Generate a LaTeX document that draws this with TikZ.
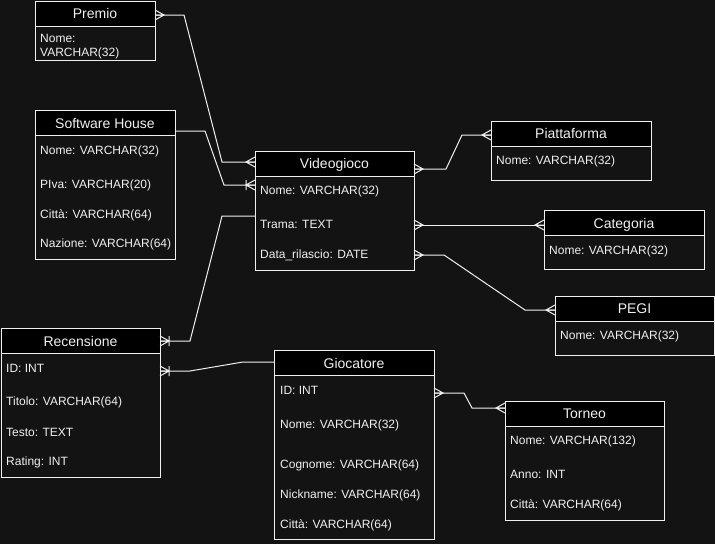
\documentclass[tikz,border=0pt]{standalone}
\usepackage{fontspec}
\setmainfont{Liberation Sans}
\usetikzlibrary{positioning}
\definecolor{bg}{HTML}{131313}
\definecolor{ink}{HTML}{F0F0F0}
\tikzset{
  entity/.style={draw=ink,fill=black,text=ink,line width=1pt,inner sep=0pt,outer sep=0pt,
    minimum height=25pt,text height=10pt,text depth=0pt,font=\fontsize{14}{16}\selectfont},
  fields/.style={draw=ink,fill=bg,line width=1pt,inner sep=0pt,outer sep=0pt},
  field/.style={text=ink,inner sep=0pt,anchor=base west,font=\fontsize{12}{14}\selectfont},
  rel/.style={draw=ink,line width=1pt},
  many/.pic={\draw[rel] (0,-5) -- (-9,0) -- (0,5) (0,0) -- (-9,0);},
  onemany/.pic={\draw[rel] (0,-5) -- (-9,0) -- (0,5) (0,0) -- (-9,0) (-9,-5) -- (-9,5);}
}
\begin{document}
\begin{tikzpicture}[x=1pt,y=-1pt]
  \fill[bg] (0,0) rectangle (715,544);
  \useasboundingbox (0,0) rectangle (715,544);

  % entities
  \node[entity,minimum width=120pt] (premio) at (95,13.5) {Premio};
  \node[fields,minimum width=120pt,minimum height=34pt,below=0pt of premio] (premio-f) {};
  \node[field,anchor=west,align=left] (premio-nome) at (40,47) {Nome:\\VARCHAR(32)};

  \node[entity,minimum width=140pt] (sh) at (105,123) {Software House};
  \node[fields,minimum width=140pt,minimum height=124pt,below=0pt of sh] (sh-f) {};
  \node[field] (sh-nome) at (40,154) {Nome: VARCHAR(32)};
  \node[field] (sh-piva) at (40,188) {PIva: VARCHAR(20)};
  \node[field] (sh-citta) at (40,218) {Città: VARCHAR(64)};
  \node[field] (sh-nazione) at (40,247) {Nazione: VARCHAR(64)};

  \node[entity,minimum width=159pt] (vg) at (334.5,163.5) {Videogioco};
  \node[fields,minimum width=159pt,minimum height=94pt,below=0pt of vg] (vg-f) {};
  \node[field] (vg-nome) at (260,194) {Nome: VARCHAR(32)};
  \node[field] (vg-trama) at (260,228) {Trama: TEXT};
  \node[field] (vg-data) at (260,258) {Data\_rilascio: DATE};

  \node[entity,minimum width=160pt] (piatt) at (571,133.5) {Piattaforma};
  \node[fields,minimum width=160pt,minimum height=34pt,below=0pt of piatt] (piatt-f) {};
  \node[field] (piatt-nome) at (496,164) {Nome: VARCHAR(32)};

  \node[entity,minimum width=160pt] (cat) at (624,223) {Categoria};
  \node[fields,minimum width=160pt,minimum height=34pt,below=0pt of cat] (cat-f) {};
  \node[field] (cat-nome) at (549,254) {Nome: VARCHAR(32)};

  \node[entity,minimum width=159pt] (pegi) at (634.5,308.5) {PEGI};
  \node[fields,minimum width=159pt,minimum height=34pt,below=0pt of pegi] (pegi-f) {};
  \node[field] (pegi-nome) at (560,339) {Nome: VARCHAR(32)};

  \node[entity,minimum width=159pt] (rec) at (80.5,341) {Recensione};
  \node[fields,minimum width=159pt,minimum height=124pt,below=0pt of rec] (rec-f) {};
  \node[field] (rec-id) at (6,372) {ID: INT};
  \node[field] (rec-titolo) at (6,405) {Titolo: VARCHAR(64)};
  \node[field] (rec-testo) at (6,436) {Testo: TEXT};
  \node[field] (rec-rating) at (6,465) {Rating: INT};

  \node[entity,minimum width=160pt] (gioc) at (354,363) {Giocatore};
  \node[fields,minimum width=160pt,minimum height=164pt,below=0pt of gioc] (gioc-f) {};
  \node[field] (gioc-id) at (280,394) {ID: INT};
  \node[field] (gioc-nome) at (280,428) {Nome: VARCHAR(32)};
  \node[field] (gioc-cognome) at (280,468) {Cognome: VARCHAR(64)};
  \node[field] (gioc-nick) at (280,498) {Nickname: VARCHAR(64)};
  \node[field] (gioc-citta) at (280,528) {Città: VARCHAR(64)};

  \node[entity,minimum width=159pt] (torneo) at (584.5,413.5) {Torneo};
  \node[fields,minimum width=159pt,minimum height=94pt,below=0pt of torneo] (torneo-f) {};
  \node[field] (torneo-nome) at (510,444) {Nome: VARCHAR(132)};
  \node[field] (torneo-anno) at (510,478) {Anno: INT};
  \node[field] (torneo-citta) at (510,508) {Città: VARCHAR(64)};

  % relationships
  \draw[rel] (premio.east |- 0,15) pic[rotate=180]{many} -- (184,15) -- (222,162) -- (vg.west |- 0,162) pic{many};
  \draw[rel] (sh.east |- 0,131) -- (205,131) -- (224,185) -- (vg-f.west |- 0,185) pic{onemany};
  \draw[rel] (vg.east |- 0,169) pic[rotate=180]{many} -- (446,169) -- (462,135) -- (piatt.west |- 0,135) pic{many};
  \draw[rel] (vg-f.east |- 0,225) pic[rotate=180]{many} -- (cat.west |- 0,225) pic{many};
  \draw[rel] (vg-f.east |- 0,255) pic[rotate=180]{many} -- (444,255) -- (525,310) -- (pegi.west |- 0,310) pic{many};
  \draw[rel] (vg-f.west |- 0,216) -- (222,216) -- (190,341) -- (rec.east |- 0,341) pic[rotate=180]{onemany};
  \draw[rel] (rec-f.east |- 0,371) pic[rotate=180]{onemany} -- (190,371) -- (243,362) -- (gioc.west |- 0,362);
  \draw[rel] (gioc-f.east |- 0,393) pic[rotate=180]{many} -- (464,393) -- (472,408) -- (torneo.west |- 0,408) pic{many};
\end{tikzpicture}
\end{document}
